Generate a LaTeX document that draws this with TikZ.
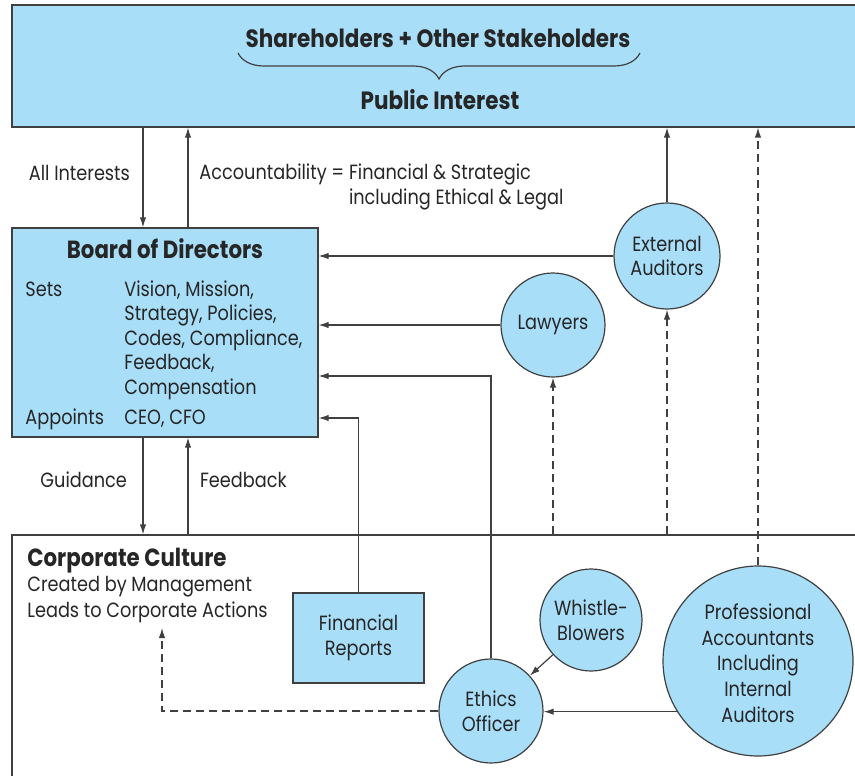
\documentclass[tikz,border=0pt]{standalone}
\usepackage{fontspec}
\setmainfont{Poppins}[FakeStretch=0.86]
\usetikzlibrary{arrows.meta,decorations.pathreplacing}
\definecolor{skyfill}{RGB}{168,222,248}
\definecolor{inkline}{RGB}{64,64,64}

\begin{document}
\begin{tikzpicture}[x=0.5pt,y=-0.5pt,
  every node/.style={font=\fontsize{10.3}{12.25}\selectfont, text=black!85},
  bluebox/.style={draw=inkline, fill=skyfill, line width=0.6pt, inner sep=0pt, align=center},
  bluecirc/.style={circle, draw=inkline, fill=skyfill, line width=0.6pt, align=center, inner sep=0pt},
  plainbox/.style={draw=inkline, line width=0.6pt, inner sep=0pt},
  arr/.style={draw=inkline, line width=0.6pt, -{Latex[length=5pt,width=3.2pt]}},
  darr/.style={arr, dash pattern=on 4pt off 2.5pt},
  headtext/.style={font=\fontsize{12.5}{14}\selectfont\bfseries},
  boldtext/.style={font=\fontsize{12.4}{12.25}\selectfont\bfseries}]

\clip (0,0) rectangle (855,775);

% top block
\node[bluebox, minimum width=434pt, minimum height=61pt] (public) at (446,66) {};
\node[headtext] (holders) at (438,38) {Shareholders + Other Stakeholders};
\node[headtext] (pubint) at (440,100) {Public Interest};
\draw[inkline, line width=0.6pt, decorate, decoration={brace, mirror, amplitude=13pt}] (238,53) -- (640,53);

% board
\node[bluebox, minimum width=153pt, minimum height=104.5pt] (board) at (165,332.5) {};
\node[boldtext] (boardtitle) at (165,249) {Board of Directors};
\node[anchor=base west, inner sep=0pt] (sets) at (25,296) {Sets};
\node[anchor=base west, inner sep=0pt] (setlist) at (124,296) {\begin{tabular}[t]{@{}l@{}}Vision, Mission,\\Strategy, Policies,\\Codes, Compliance,\\Feedback,\\Compensation\end{tabular}};
\node[anchor=base west, inner sep=0pt] (appoints) at (25,424) {Appoints};
\node[anchor=base west, inner sep=0pt] (ceo) at (124,424) {CEO, CFO};

% outside advisers
\node[bluecirc, minimum size=53pt] (extaud) at (667,256) {External\\Auditors};
\node[bluecirc, minimum size=52pt] (lawyers) at (553,325) {Lawyers};

% corporate culture
\node[plainbox, minimum width=434pt, minimum height=132.5pt] (culture) at (446,667.5) {};
\node[anchor=base west, inner sep=0pt] (culttext) at (27,566) {\begin{tabular}[t]{@{}l@{}}{\fontsize{12.4}{12.25}\selectfont\bfseries Corporate Culture}\\[0.7pt]Created by Management\\[0.7pt]Leads to Corporate Actions\end{tabular}};
\node[bluebox, minimum width=65.5pt, minimum height=45pt] (finrep) at (358.5,638) {Financial\\Reports};
\node[bluecirc, minimum size=51pt] (whistle) at (591,620) {Whistle-\\Blowers};
\node[bluecirc, minimum size=52pt] (ethics) at (491,711) {Ethics\\Officer};
\node[bluecirc, minimum size=95pt] (profacc) at (758,661) {};
\node[inner sep=0pt] (proftext) at ([yshift=-2.5pt]profacc.center) {\begin{tabular}{@{}c@{}}Professional\\[0.6pt]Accountants\\[0.6pt]Including\\[0.6pt]Internal\\[0.6pt]Auditors\end{tabular}};

% labels
\node[anchor=east] (allint) at (137,173) {All Interests};
\node[anchor=base west, inner sep=0pt] (account) at (199,180) {\begin{tabular}[t]{@{}l@{}}Accountability = Financial \& Strategic\\\phantom{Accountability = }including Ethical \& Legal\end{tabular}};
\node[anchor=east] (guide) at (134,480) {Guidance};
\node[anchor=west] (feedbk) at (193,480) {Feedback};

\coordinate (downx) at (143,0);
\coordinate (upx) at (188,0);
\coordinate (culturein) at (162,628);

% connectors
\draw[arr] (public.south -| downx) -- (board.north -| downx);
\draw[arr] (board.north -| upx) -- (public.south -| upx);
\draw[arr] (extaud.west) -- (board.east |- extaud.west);
\draw[arr] (lawyers.west) -- (board.east |- lawyers.west);
\draw[arr] (ethics.north) |- ([yshift=-21.75pt]board.east);
\draw[arr] (finrep.north) |- ([yshift=-42.75pt]board.east);
\draw[arr] (extaud.north) -- (public.south -| extaud.north);
\draw[darr] (culture.north -| lawyers.south) -- (lawyers.south);
\draw[darr] (culture.north -| extaud.south) -- (extaud.south);
\draw[darr] (profacc.north) -- (public.south -| profacc.north);
\draw[arr] (board.south -| downx) -- (culture.north -| downx);
\draw[arr] (culture.north -| upx) -- (board.south -| upx);
\draw[arr] (whistle) -- (ethics);
\draw[arr] (profacc.212) -- (ethics.east |- profacc.212);
\draw[darr] (ethics.west) -| (culturein);

\end{tikzpicture}
\end{document}
